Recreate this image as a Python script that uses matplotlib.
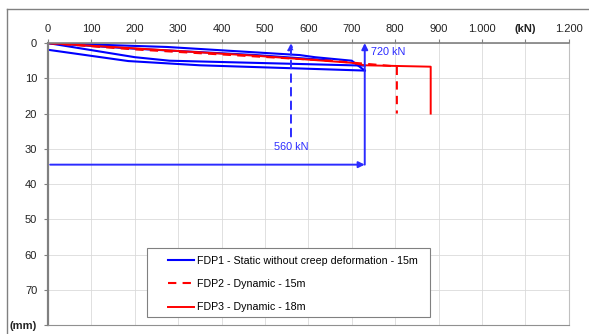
import matplotlib.pyplot as plt
from matplotlib.lines import Line2D
from matplotlib.patches import Rectangle

# FDP1 static test: loading / unloading branches (kN, mm)
fdp1_a_load = [0, 274, 580, 615, 700, 730]
fdp1_a_sett = [0, 1.1, 3.4, 4.0, 5.0, 7.8]
fdp1_b_load = [0, 200, 480, 650]
fdp1_b_sett = [0, 1.6, 3.4, 4.9]
fdp1_c_load = [0, 200, 280, 730]
fdp1_c_sett = [0, 4.0, 5.0, 6.4]
fdp1_d_load = [0, 185, 350, 730]
fdp1_d_sett = [1.9, 5.1, 6.3, 7.8]

# FDP2 dynamic 15m
fdp2_load = [0, 200, 480, 650, 800, 804, 804]
fdp2_sett = [0, 1.8, 3.8, 5.0, 6.6, 6.6, 20]

# FDP3 dynamic 18m
fdp3_load = [0, 200, 480, 700, 730, 882, 882]
fdp3_sett = [0, 1.5, 3.6, 5.6, 6.3, 6.7, 20]

ref_load_1 = 560
ref_load_2 = 730
ref_depth = 34.5

xticks = [0, 100, 200, 300, 400, 500, 600, 700, 800, 900, 1000, 1100, 1200]
xlabels = ['0', '100', '200', '300', '400', '500', '600', '700', '800', '900',
           '1.000', '(kN)', '1.200']
yticks = [0, 10, 20, 30, 40, 50, 60, 70, 80]
ylabels = ['0', '10', '20', '30', '40', '50', '60', '70', '(mm)']

plt.rcParams['font.family'] = ['Liberation Sans', 'DejaVu Sans']

blue = '#0000ff'
ann_blue = '#2b2bff'
red = '#ff0000'

fig = plt.figure(figsize=(5.89, 3.34), dpi=100)
ax = fig.add_axes([0.0815, 0.027, 0.884, 0.844])

# outer chart frame
fig.add_artist(Line2D([7 / 589, 7 / 589], [0, 1 - 9 / 334], color='#808080', lw=1.0))
fig.add_artist(Line2D([7 / 589, 1], [1 - 9 / 334, 1 - 9 / 334], color='#808080', lw=1.0))

ax.plot(fdp1_a_load, fdp1_a_sett, color=blue, lw=1.5,
        label='FDP1 - Static without creep deformation - 15m')
ax.plot(fdp1_b_load, fdp1_b_sett, color=blue, lw=1.5)
ax.plot(fdp1_c_load, fdp1_c_sett, color=blue, lw=1.5)
ax.plot(fdp1_d_load, fdp1_d_sett, color=blue, lw=1.5)
ax.plot(fdp2_load, fdp2_sett, color=red, lw=1.5, ls=(0, (4, 3)),
        label='FDP2 - Dynamic - 15m')
ax.plot(fdp3_load, fdp3_sett, color=red, lw=1.4, label='FDP3 - Dynamic - 18m')

# reference arrows
ax.annotate('', xy=(ref_load_1, 0), xytext=(ref_load_1, 26.5),
            arrowprops=dict(arrowstyle='-|>', color=ann_blue, lw=1.4, ls=(0, (4, 3)),
                            mutation_scale=9, shrinkA=0, shrinkB=0))
ax.text(ref_load_1, 28.2, '560 kN', color=ann_blue, fontsize=7.8, ha='center', va='top')
ax.annotate('', xy=(ref_load_2, 0), xytext=(ref_load_2, ref_depth),
            arrowprops=dict(arrowstyle='-|>', color=ann_blue, lw=1.4,
                            mutation_scale=9, shrinkA=0, shrinkB=0))
ax.text(ref_load_2 + 14, 1.2, '720 kN', color=ann_blue, fontsize=7.8, ha='left', va='top')
ax.annotate('', xy=(ref_load_2, ref_depth), xytext=(5, ref_depth),
            arrowprops=dict(arrowstyle='-|>', color=ann_blue, lw=1.4,
                            mutation_scale=9, shrinkA=0, shrinkB=0))

ax.set_xlim(0, 1200)
ax.set_ylim(80, 0)
ax.xaxis.tick_top()
ax.set_xticks(xticks)
ax.set_xticklabels(xlabels, fontsize=8)
ax.set_yticks(yticks)
ax.set_yticklabels(ylabels, fontsize=8)
for lab in ax.get_xticklabels():
    if lab.get_text() == '(kN)':
        lab.set_fontweight('bold')
for lab in ax.get_yticklabels():
    if lab.get_text() == '(mm)':
        lab.set_fontweight('bold')
ax.tick_params(length=3, color='#808080', labelcolor='#222222')
ax.tick_params(axis='x', pad=3.5)
ax.tick_params(axis='y', pad=4.8)
ax.grid(True, color='#dadada', lw=0.6)

ax.spines['left'].set_color('#808080')
ax.spines['left'].set_linewidth(1.6)
ax.spines['top'].set_color('#808080')
ax.spines['top'].set_linewidth(1.2)
ax.spines['bottom'].set_color('#909090')
ax.spines['right'].set_color('#c0c0c0')

# legend box drawn separately to get the wider left padding
ax.add_patch(Rectangle((0.19, 0.028), 0.544, 0.245, transform=ax.transAxes,
                       facecolor='white', edgecolor='#808080', lw=0.8, zorder=4))
leg = ax.legend(loc='upper left', bbox_to_anchor=(0.2305, 0.246), fontsize=7.7,
                frameon=False, handlelength=2.4, handletextpad=0.3,
                labelspacing=1.25, borderpad=0, borderaxespad=0)
leg.set_zorder(5)

fig.savefig('out.png', dpi=100)
